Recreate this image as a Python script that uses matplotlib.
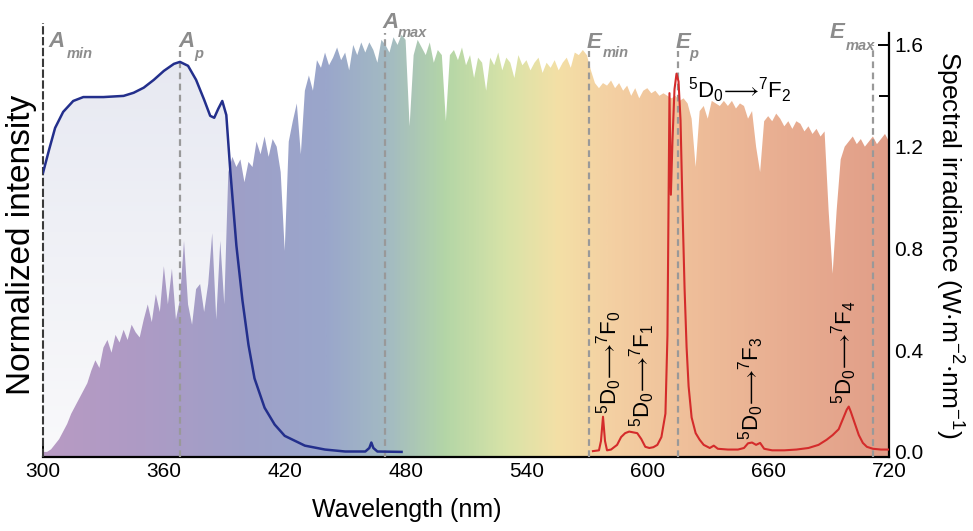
import numpy as np
import matplotlib
matplotlib.use('Agg')
import matplotlib.pyplot as plt
from matplotlib.colors import LinearSegmentedColormap
from matplotlib.patches import Polygon
from matplotlib.ticker import MultipleLocator

plt.rcParams['font.family'] = ['Liberation Sans', 'DejaVu Sans']
plt.rcParams['mathtext.fontset'] = 'custom'
plt.rcParams['mathtext.rm'] = 'Liberation Sans'
plt.rcParams['mathtext.it'] = 'Liberation Sans:italic'
plt.rcParams['mathtext.bf'] = 'Liberation Sans:bold'
plt.rcParams['mathtext.fallback'] = 'stixsans'

# solar spectrum (W m-2 nm-1), 2 nm steps from 300 to 720 nm
solar_wl = np.arange(300, 721, 2)
solar_irr = [
    0.00, 0.00, 0.01, 0.03, 0.05, 0.08, 0.11, 0.15, 0.18, 0.21,   # 300-318
    0.24, 0.27, 0.32, 0.36, 0.33, 0.41, 0.44, 0.39, 0.46, 0.43,   # 320-338
    0.48, 0.44, 0.50, 0.47, 0.45, 0.52, 0.58, 0.51, 0.62, 0.55,   # 340-358
    0.73, 0.58, 0.72, 0.52, 0.60, 0.83, 0.58, 0.50, 0.64, 0.66,   # 360-378
    0.55, 0.66, 0.86, 0.52, 0.83, 0.58, 1.10, 1.16, 1.12, 1.15,   # 380-398
    1.06, 1.14, 1.12, 1.22, 1.17, 1.24, 1.16, 1.23, 1.20, 1.10,   # 400-418
    0.79, 1.22, 1.30, 1.37, 1.17, 1.42, 1.48, 1.42, 1.54, 1.51,   # 420-438
    1.57, 1.52, 1.55, 1.59, 1.54, 1.57, 1.50, 1.60, 1.56, 1.61,   # 440-458
    1.57, 1.61, 1.58, 1.53, 1.62, 1.60, 1.57, 1.63, 1.60, 1.64,   # 460-478
    1.62, 1.28, 1.56, 1.62, 1.59, 1.56, 1.61, 1.53, 1.58, 1.56,   # 480-498
    1.30, 1.56, 1.58, 1.54, 1.59, 1.52, 1.56, 1.47, 1.55, 1.53,   # 500-518
    1.42, 1.55, 1.52, 1.57, 1.50, 1.55, 1.53, 1.47, 1.56, 1.52,   # 520-538
    1.54, 1.50, 1.53, 1.55, 1.49, 1.53, 1.51, 1.54, 1.50, 1.53,   # 540-558
    1.55, 1.51, 1.57, 1.56, 1.58, 1.56, 1.50, 1.45, 1.43, 1.45,   # 560-578
    1.44, 1.46, 1.43, 1.45, 1.42, 1.44, 1.40, 1.43, 1.39, 1.42,   # 580-598
    1.43, 1.41, 1.42, 1.40, 1.41, 1.40, 1.39, 1.40, 1.38, 1.39,   # 600-618
    1.37, 1.31, 1.12, 1.34, 1.36, 1.31, 1.38, 1.37, 1.36, 1.38,   # 620-638
    1.36, 1.38, 1.35, 1.37, 1.36, 1.31, 1.34, 1.20, 1.10, 1.30,   # 640-658
    1.32, 1.30, 1.33, 1.31, 1.28, 1.30, 1.27, 1.30, 1.29, 1.26,   # 660-678
    1.28, 1.25, 1.27, 1.24, 1.26, 0.95, 0.70, 0.95, 1.15, 1.20,   # 680-698
    1.22, 1.24, 1.21, 1.23, 1.20, 1.22, 1.24, 1.21, 1.23, 1.25,   # 700-718
    1.22,                                                         # 720
]

# absorption (normalized)
abs_wl = [300, 303, 306, 310, 315, 320, 330, 340, 345, 350, 355, 360, 365, 368,
          372, 376, 380, 383, 385, 387, 389, 391, 393, 396, 399, 402, 405, 410,
          415, 420, 430, 440, 450, 460, 462, 463, 464, 466, 478]
abs_int = [0.716, 0.775, 0.831, 0.872, 0.900, 0.910, 0.910, 0.913, 0.921, 0.934,
           0.954, 0.977, 0.995, 1.000, 0.990, 0.954, 0.903, 0.862, 0.857, 0.880,
           0.900, 0.864, 0.720, 0.530, 0.390, 0.276, 0.190, 0.115, 0.072, 0.043,
           0.018, 0.008, 0.003, 0.003, 0.012, 0.026, 0.012, 0.003, 0.002]

# Eu3+ emission (normalized)
em_wl = [573, 576, 577, 578, 579, 580, 582, 585, 587, 589, 591, 593, 595, 597,
         599, 601, 603, 605, 607, 608, 609, 610, 611, 611.7, 612.5, 613.5, 614.5,
         615.5, 616.5, 617.5, 618.5, 619.5, 620.5, 622, 624, 626, 628, 631, 633,
         635, 640, 645, 648, 650, 652, 654, 656, 658, 662, 668, 674, 680, 685,
         689, 692, 695, 697, 699, 700, 701, 703, 705, 707, 709, 712, 716, 720]
em_int = [0.004, 0.006, 0.030, 0.092, 0.030, 0.006, 0.008, 0.020, 0.040, 0.050,
          0.054, 0.052, 0.050, 0.035, 0.015, 0.012, 0.014, 0.020, 0.040, 0.070,
          0.100, 0.300, 0.920, 0.660, 0.800, 0.930, 0.970, 0.950, 0.850, 0.620,
          0.420, 0.270, 0.170, 0.090, 0.050, 0.033, 0.020, 0.012, 0.018, 0.010,
          0.008, 0.008, 0.012, 0.024, 0.026, 0.020, 0.025, 0.010, 0.006, 0.006,
          0.008, 0.012, 0.020, 0.033, 0.045, 0.060, 0.085, 0.110, 0.118, 0.105,
          0.075, 0.045, 0.025, 0.015, 0.010, 0.008, 0.008]

# characteristic wavelengths
marker_names = ['A', 'A', 'A', 'E', 'E', 'E']
marker_subs = ['min', 'p', 'max', 'min', 'p', 'max']
marker_wl = [300, 368, 470, 571, 615, 712]

transitions = ['$^5$D$_0$$\u27f6$$^7$F$_0$', '$^5$D$_0$$\u27f6$$^7$F$_1$',
               '$^5$D$_0$$\u27f6$$^7$F$_2$', '$^5$D$_0$$\u27f6$$^7$F$_3$',
               '$^5$D$_0$$\u27f6$$^7$F$_4$']

fig = plt.figure(figsize=(9.73, 5.31), dpi=100)
ax = fig.add_axes([0.0442, 0.1394, 0.8695, 0.7985])
ax2 = ax.twinx()

x0, x1 = 300, 720
ylo, yhi = -0.02, 1.647
nlo, nhi = -0.011, 1.074

# rainbow colored solar spectrum
sun_nm = [300, 350, 400, 440, 470, 500, 530, 555, 580, 620, 670, 720]
sun_col = ['#b89ac3', '#ad9bc5', '#9ea0c8', '#9aa6cb', '#a3bac3', '#b4d6a6',
           '#d8e3a8', '#f3e0a6', '#f4d1a3', '#efbf9a', '#e8ad91', '#e19e88']
cmap = LinearSegmentedColormap.from_list(
    'sun', [((n - x0) / (x1 - x0), c) for n, c in zip(sun_nm, sun_col)])
grad = np.linspace(0, 1, 600).reshape(1, -1)
im = ax.imshow(grad, cmap=cmap, extent=(x0, x1, ylo, yhi), aspect='auto',
               origin='lower', zorder=2, interpolation='bilinear')
verts = [(x0, ylo)] + list(zip(solar_wl, solar_irr)) + [(x1, ylo)]
clip = Polygon(verts, closed=True, transform=ax.transData, facecolor='none',
               edgecolor='none')
ax.add_patch(clip)
im.set_clip_path(clip)

# pale fill under absorption
pale = LinearSegmentedColormap.from_list('pale', ['#f9f9fb', '#e6e8f1'])
im2 = ax.imshow(np.linspace(0, 1, 100).reshape(-1, 1), cmap=pale,
                extent=(x0, 480, ylo, yhi), aspect='auto', origin='lower',
                zorder=1)
averts = [(abs_wl[0], 0)] + list(zip(abs_wl, abs_int)) + [(abs_wl[-1], 0)]
aclip = Polygon(averts, closed=True, transform=ax2.transData, facecolor='none',
                edgecolor='none')
ax.add_patch(aclip)
im2.set_clip_path(aclip)

# dashed marker lines
tops = [1.686, 1.576, 1.647, 1.576, 1.576, 1.600]
for i, wl in enumerate(marker_wl):
    if i == 0:
        ax.plot([wl, wl], [ylo, tops[i]], color='#3a3a3a', lw=1.5,
                ls=(0, (4, 1.2)), clip_on=False, zorder=3)
    else:
        ax.plot([wl, wl], [ylo, tops[i]], color='#999999', lw=1.6,
                ls=(0, (3, 2)), clip_on=False, zorder=3)

lab_x = [302.5, 367.0, 468.3, 570.1, 614.2, 690.7]
lab_y = [1.592, 1.592, 1.667, 1.588, 1.588, 1.627]
sub_dx = [13.7, 11.5, 11.5, 11.0, 9.4, 11.0]
sub_dy = [-8.0, -8.0, -6.5, -6.5, -7.0, -8.6]
for i in range(len(marker_wl)):
    ax.text(lab_x[i], lab_y[i], marker_names[i], color='#8c8c8c', fontsize=16,
            fontweight='bold', fontstyle='italic', va='baseline', ha='left',
            clip_on=False, zorder=5)
    ax.annotate(marker_subs[i], xy=(lab_x[i], lab_y[i]),
                xytext=(sub_dx[i], sub_dy[i]), textcoords='offset points',
                color='#8c8c8c', fontsize=10.5, fontstyle='italic',
                fontweight='bold', va='baseline', ha='left',
                annotation_clip=False, zorder=5)

# curves
ax2.plot(abs_wl, abs_int, color='#232f8c', lw=1.8, zorder=5)
ax2.plot(em_wl, em_int, color='#d42b2b', lw=1.5, zorder=5)

# transition labels
tx = [581.3, 597.7, 620.0, 651.8, 698.0]
ty = [0.354, 0.300, 1.423, 0.250, 0.390]
for i, t in enumerate(transitions):
    if i == 2:
        ax.text(tx[i], ty[i], t, fontsize=16, ha='left', va='center', zorder=6)
    else:
        ax.text(tx[i], ty[i], t, fontsize=16, ha='center', va='center',
                rotation=90, zorder=6)

ax.set_xlim(x0, x1)
ax.set_ylim(ylo, yhi)
ax2.set_ylim(nlo, nhi)

ax.xaxis.set_major_locator(MultipleLocator(60))
ax.xaxis.set_minor_locator(MultipleLocator(30))
ax.yaxis.tick_right()
ax.yaxis.set_label_position('right')
ax.yaxis.set_minor_locator(MultipleLocator(0.2))
ax.set_yticks([0.0, 0.4, 0.8, 1.2, 1.6])
ax.set_yticklabels(['0.0', '0.4', '0.8', '1.2', '1.6'])
ax.tick_params(axis='both', which='major', direction='in', length=8, width=1.4,
               labelsize=15, color='black')
ax.tick_params(axis='x', which='minor', direction='in', length=4.5, width=1.4)
ax.tick_params(axis='y', which='minor', direction='in', length=7, width=1.4)
ax.tick_params(axis='y', which='both', left=False, right=True)
ax2.set_yticks([])

for s in ['top', 'left']:
    ax.spines[s].set_visible(False)
for s in ['top', 'left', 'right', 'bottom']:
    ax2.spines[s].set_visible(False)
ax.spines['bottom'].set_linewidth(1.6)
ax.spines['right'].set_linewidth(1.6)

ax.set_xlabel('Wavelength (nm)', fontsize=18)
ax.xaxis.set_label_coords(0.43, -0.097)
ax.set_ylabel(r'Spectral irradiance (W$\cdot$m$^{-2}$$\cdot$nm$^{-1}$)',
              fontsize=19, rotation=270, labelpad=30)
ax2.yaxis.set_label_position('left')
ax2.set_ylabel('Normalized intensity', fontsize=24, labelpad=4)

fig.savefig('out.png', dpi=100)
